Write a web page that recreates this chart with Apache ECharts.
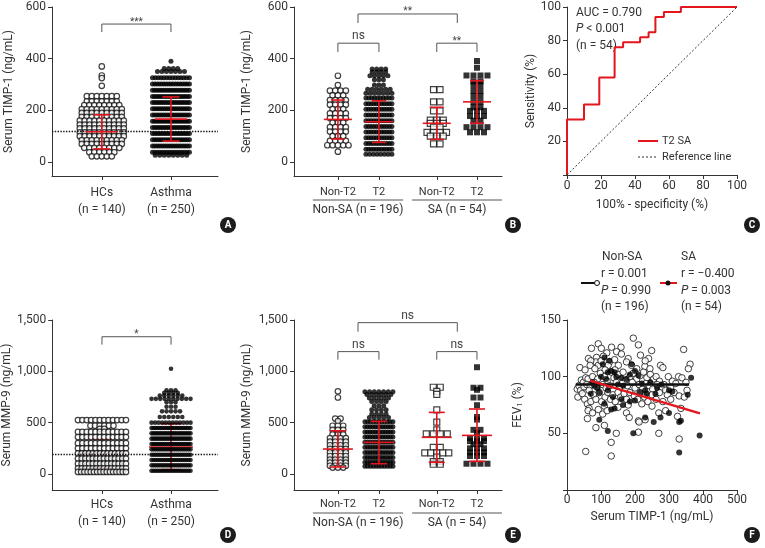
<!DOCTYPE html>
<html>
<head>
<meta charset="utf-8">
<title>Serum TIMP-1 and MMP-9</title>
<script src="https://cdn.jsdelivr.net/npm/echarts@6/dist/echarts.min.js"></script>
<style>
  html, body { margin: 0; background: #fff; }
  #chart { width: 765px; height: 548px; }
</style>
</head>
<body>
<div id="chart"></div>
<script>
// ---- data ----
// dot plots: each row is [value, number of dots drawn at that value]
const timpHcRows = [[370,1],[335,1],[325,1],[295,1],[255,7],[235,7],[220,8],[205,9],[190,9],[175,9],[160,10],[145,10],[130,10],[115,10],[100,10],[85,9],[70,9],[55,8],[38,6],[22,5]];
const timpAsthmaRows = [[390,1],[362,4],[350,7],[326,14],[302,17],[278,18],[254,18],[230,18],[206,18],[182,18],[158,18],[134,18],[110,18],[86,18],[62,18],[38,16],[26,8]];
const timpNonSaNonT2 = [[334,1],[298,1],[276,4],[258,3],[240,4],[222,4],[205,3],[188,4],[170,4],[152,3],[135,4],[118,4],[100,3],[82,4],[65,5],[40,1]];
const timpNonSaT2 = [[360,4],[348,4],[334,5],[318,3],[298,3],[282,6],[266,7],[248,10],[226,11],[204,11],[182,11],[160,11],[138,11],[116,11],[94,11],[72,11],[50,11],[30,8]];
const timpSaNonT2 = [[280,2],[233,2],[198,2],[162,3],[150,3],[135,2],[115,4],[100,3],[70,2]];
const timpSaT2 = [[391,1],[365,1],[335,4],[312,2],[298,2],[275,2],[255,2],[232,2],[212,2],[198,3],[178,3],[160,2],[135,4],[115,3]];

const mmpHcRows = [[525,12],[470,6],[440,2],[410,12],[360,12],[300,12],[250,12],[200,14],[150,14],[100,14],[55,14],[20,16]];
const mmpAsthmaRows = [[1025,1],[815,3],[790,4],[765,6],[732,10],[700,3],[655,3],[610,5],[555,6],[500,12],[448,22],[396,22],[344,22],[292,22],[240,20],[188,20],[136,20],[84,20],[32,20]];
const mmpNonSaNonT2 = [[805,1],[745,1],[540,2],[515,1],[470,3],[430,3],[385,3],[350,4],[315,4],[280,4],[245,4],[210,4],[175,4],[140,4],[110,4],[80,4],[62,3]];
const mmpNonSaT2 = [[800,7],[775,6],[740,5],[705,4],[665,3],[625,4],[585,4],[550,5],[510,11],[460,12],[410,12],[360,12],[310,12],[260,12],[210,12],[160,12],[115,12],[75,11]];
const mmpSaNonT2 = [[845,2],[805,1],[775,1],[625,1],[505,1],[430,1],[390,4],[260,2],[205,5],[165,1],[120,2],[95,2]];
const mmpSaT2 = [[1040,1],[840,2],[820,1],[745,2],[670,1],[555,1],[530,1],[430,2],[400,1],[350,3],[320,3],[290,2],[250,3],[210,3],[175,3],[100,4]];

// [mean, mean - SD, mean + SD]
const timpStatsA = [[117,51,183],[166,81,252]];
const timpStatsB = [[165,89,240],[156,76,237],[150,88,212],[233,150,315]];
const mmpStatsD = [[200,60,340],[263,42,490]];
const mmpStatsE = [[243,68,421],[308,100,512],[357,113,600],[376,123,633]];
const timpCutoff = 120;
const mmpCutoff = 195;

const twoGroupLabels = ['HCs\n(n = 140)', 'Asthma\n(n = 250)'];
const fourGroupLabels = ['Non-T2', 'T2', 'Non-T2', 'T2'];
const saGroupNames = ['Non-SA (n = 196)', 'SA (n = 54)'];
const sigA = ['***'];
const sigB = ['**', 'ns', '**'];
const sigD = ['*'];
const sigE = ['ns', 'ns', 'ns'];

// ROC: [100% - specificity, sensitivity]
const rocCurve = [[0,0],[0,33],[10,42],[19,58],[28,76],[33,79],[43,82],[48,85],[52,94],[57,97],[67,100],[100,100]];
const rocReference = [[0,0],[100,100]];

// FEV1 vs serum TIMP-1: [TIMP-1, FEV1]
const fevNonSa = [[195,134],[210,128],[92,129],[101,125],[72,125],[131,126],[159,126],[146,122],[117,121],[249,123],[343,124],[216,119],[240,116],[180,116],[87,117],[107,118],[63,116],[160,120],[125,113],[85,113],[70,114],[362,111],[357,107],[38,108],[68,110],[92,110],[121,110],[151,110],[190,110],[229,109],[53,106],[82,107],[112,106],[141,106],[205,107],[244,107],[275,110],[282,108],[175,113],[230,114],[100,114],[140,115],
  [30,89],[35,92],[42,97],[48,95],[55,99],[62,98],[75,100],[90,98],[98,103],[110,100],[118,96],[130,104],[138,99],[150,102],[165,104],[172,97],[185,100],[195,103],[205,98],[215,101],[225,104],[235,99],[245,102],[255,98],[262,100],[272,96],[285,93],[298,100],[310,96],[320,94],[328,100],[338,99],[350,95],[353,88],[40,88],[50,91],[58,93],[68,92],[80,95],[88,91],[105,93],[115,90],[125,92],[145,95],[155,91],[162,94],[178,92],[192,95],[200,90],[212,93],[222,89],[232,94],[242,92],[252,89],[265,93],[278,90],[290,88],[305,90],
  [32,82],[45,85],[52,80],[60,76],[65,72],[70,78],[78,84],[85,80],[95,86],[102,78],[112,82],[120,86],[128,80],[135,84],[142,78],[150,86],[158,82],[168,85],[175,80],[185,86],[198,83],[208,80],[215,86],[228,82],[238,78],[250,84],[262,80],[272,86],[282,78],[295,84],[305,80],[315,86],[330,83],[345,82],[65,88],[110,74],[180,75],[220,76],[250,74],[290,70],[62,70],[75,68],[92,71],[105,67],[118,70],[150,73],
  [55,34],[130,30],[130,42],[145,50],[210,51],[270,50],[330,45],[60,63],[110,57],[335,72],[210,61],[230,62],[85,55],[175,68],[270,68],[325,65],[183,64],[212,60]];
const fevSa = [[110,117],[125,114],[105,111],[130,105],[120,104],[140,104],[100,100],[115,98],[145,100],[160,99],[190,111],[200,105],[185,102],[210,101],[175,98],[75,95],[80,92],[90,90],[150,93],[165,92],[220,94],[230,88],[245,95],[265,90],[278,93],[310,87],[355,84],[365,99],[70,85],[95,86],[120,88],[135,82],[160,80],[185,78],[200,79],[215,86],[235,85],[260,85],[300,88],[140,72],[130,71],[165,75],[255,60],[230,64],[275,64],[300,68],[95,62],[120,52],[195,50],[330,60],[335,61],[330,33],[390,48],[110,76]];
const fitNonSa = [[26,93],[359,93]];
const fitSa = [[68,96.5],[391,67.6]];

// ---- layout ----
const FONT = 'Roboto, "Noto Sans", sans-serif';
const AX = '#333';
const TXT = '#333';
const RED = '#e3161d';

const twoPos = [0.72, 1.72];
const fourPos = [1.07, 2.07, 3.48, 4.46];
const groupSpans = [[0.46, 2.66], [2.88, 5.07]];

const chart = echarts.init(document.getElementById('chart'));

function nearest(pos, v) {
  let best = 0;
  pos.forEach((p, i) => { if (Math.abs(p - v) < Math.abs(pos[best] - v)) best = i; });
  return best;
}

// spread dots of one row sideways, centred on the group
function dotData(rows, xc, maxGap, maxWidth) {
  const out = [];
  rows.forEach(([v, n]) => {
    const gap = n > 1 ? Math.min(maxGap, maxWidth / (n - 1)) : 0;
    for (let k = 0; k < n; k++) {
      out.push({ value: [xc, v], symbolOffset: [(k - (n - 1) / 2) * gap, 0] });
    }
  });
  return out;
}

const OPEN = { color: '#fff', borderColor: '#111', borderWidth: 1.2 };
const FILL = { color: '#000' };

function dots(idx, rows, xc, maxGap, maxWidth, symbol, size, style) {
  return {
    type: 'scatter', xAxisIndex: idx, yAxisIndex: idx, silent: true,
    symbol: symbol, symbolSize: size, itemStyle: style,
    data: dotData(rows, xc, maxGap, maxWidth)
  };
}

function meanSd(idx, xs, stats, halfMean, halfCap, z) {
  return {
    type: 'custom', xAxisIndex: idx, yAxisIndex: idx, silent: true, z: z,
    data: stats.map((s, i) => [xs[i], s[0], s[1], s[2]]),
    renderItem: function (params, api) {
      const m = api.coord([api.value(0), api.value(1)]);
      const lo = api.coord([api.value(0), api.value(2)]);
      const hi = api.coord([api.value(0), api.value(3)]);
      const st = { stroke: RED, lineWidth: 1.6 };
      const seg = (x1, y1, x2, y2) => ({ type: 'line', shape: { x1, y1, x2, y2 }, style: st });
      return { type: 'group', children: [
        seg(m[0] - halfMean, m[1], m[0] + halfMean, m[1]),
        seg(lo[0], lo[1], hi[0], hi[1]),
        seg(lo[0] - halfCap, lo[1], lo[0] + halfCap, lo[1]),
        seg(hi[0] - halfCap, hi[1], hi[0] + halfCap, hi[1])
      ] };
    }
  };
}

// spans: [x1, x2, top, foot] in axis units
function brackets(idx, spans, labels) {
  return {
    type: 'custom', xAxisIndex: idx, yAxisIndex: idx, silent: true, z: 5,
    data: spans,
    renderItem: function (params, api) {
      const a = api.coord([api.value(0), api.value(2)]);
      const b = api.coord([api.value(1), api.value(3)]);
      const label = labels[params.dataIndex];
      const star = label !== 'ns';
      return { type: 'group', children: [
        { type: 'polyline', shape: { points: [[a[0], b[1]], [a[0], a[1]], [b[0], a[1]], [b[0], b[1]]] },
          style: { stroke: '#555', lineWidth: 1, fill: 'none' } },
        { type: 'text', x: (a[0] + b[0]) / 2, y: star ? a[1] + 3 : a[1] - 1,
          style: { text: label, fill: '#444', fontSize: star ? 10 : 12, fontFamily: FONT, align: 'center', verticalAlign: 'bottom' } }
      ] };
    }
  };
}

function groupLabels(idx, yMin, lineOff, textOff) {
  return {
    type: 'custom', xAxisIndex: idx, yAxisIndex: idx, silent: true,
    data: groupSpans,
    renderItem: function (params, api) {
      const a = api.coord([api.value(0), yMin]);
      const b = api.coord([api.value(1), yMin]);
      return { type: 'group', children: [
        { type: 'line', shape: { x1: a[0], y1: a[1] + lineOff, x2: b[0], y2: a[1] + lineOff }, style: { stroke: '#555', lineWidth: 1 } },
        { type: 'text', x: (a[0] + b[0]) / 2, y: a[1] + textOff,
          style: { text: saGroupNames[params.dataIndex], fill: TXT, fontSize: 12, fontFamily: FONT, align: 'center', verticalAlign: 'middle' } }
      ] };
    }
  };
}

function dotXAxis(idx, max, pos, labels, fs, lh, margin) {
  return {
    gridIndex: idx, type: 'value', min: 0, max: max,
    axisLine: { show: true, onZero: false, lineStyle: { color: AX } },
    axisTick: { show: true, customValues: pos, length: 4, lineStyle: { color: AX } },
    axisLabel: { customValues: pos, formatter: v => labels[nearest(pos, v)], color: TXT,
      fontFamily: FONT, fontSize: fs, lineHeight: lh, margin: margin },
    splitLine: { show: false }
  };
}

function dotYAxis(idx, min, max, ticks, name, gap) {
  return {
    gridIndex: idx, type: 'value', min: min, max: max,
    axisLine: { show: true, onZero: false, lineStyle: { color: AX } },
    axisTick: { show: true, customValues: ticks, length: 4, lineStyle: { color: AX } },
    axisLabel: { customValues: ticks, formatter: v => v.toLocaleString('en-US'), color: TXT,
      fontFamily: FONT, fontSize: 12, margin: 6 },
    splitLine: { show: false },
    name: name, nameLocation: 'middle', nameGap: gap,
    nameTextStyle: { color: TXT, fontFamily: FONT, fontSize: 12, rich: { s: { fontSize: 8, verticalAlign: 'bottom', fontFamily: FONT, color: TXT } } }
  };
}

function plainAxis(idx, max, interval, name, gap, hideZero, margin) {
  return {
    gridIndex: idx, type: 'value', min: 0, max: max, interval: interval,
    axisLine: { show: true, onZero: false, lineStyle: { color: AX } },
    axisTick: { show: true, length: 4, lineStyle: { color: AX } },
    axisLabel: { color: TXT, fontFamily: FONT, fontSize: 12, margin: margin,
      formatter: v => (hideZero && v === 0 ? '' : String(v)) },
    splitLine: { show: false },
    name: name, nameLocation: 'middle', nameGap: gap,
    nameTextStyle: { color: TXT, fontFamily: FONT, fontSize: 12, rich: { s: { fontSize: 8, verticalAlign: 'bottom', fontFamily: FONT, color: TXT } } }
  };
}

function cutoffLine(value) {
  return { silent: true, symbol: 'none', label: { show: false },
    lineStyle: { type: 'dotted', color: '#111', width: 1.4 }, data: [{ yAxis: value }] };
}

function badge(x, y, letter) {
  return [
    { type: 'circle', shape: { cx: x, cy: y, r: 8 }, style: { fill: '#1c1c1c' } },
    { type: 'text', x: x, y: y + 0.5, style: { text: letter, fill: '#fff', fontSize: 10, fontWeight: 'bold', fontFamily: FONT, align: 'center', verticalAlign: 'middle' } }
  ];
}

function label(x, y, text, size) {
  return { type: 'text', x: x, y: y, style: { text: text, fill: TXT, fontSize: size || 12, fontFamily: FONT,
    align: 'left', verticalAlign: 'middle', rich: { i: { fontStyle: 'italic', fontSize: size || 12, fontFamily: FONT, fill: TXT } } } };
}

const graphics = [].concat(
  badge(228, 225, 'A'), badge(513, 225, 'B'), badge(752, 225, 'C'),
  badge(228, 535, 'D'), badge(513, 535, 'E'), badge(752, 535, 'F'),
  [
    label(576, 13, 'AUC = 0.790'),
    label(576, 29, '{i|P} < 0.001'),
    label(576, 46, '(n = 54)'),
    { type: 'line', shape: { x1: 638, y1: 141, x2: 658, y2: 141 }, style: { stroke: RED, lineWidth: 2 } },
    label(662, 141, 'T2 SA', 11),
    { type: 'line', shape: { x1: 638, y1: 157, x2: 658, y2: 157 }, style: { stroke: '#333', lineWidth: 1, lineDash: [2, 2] } },
    label(662, 157, 'Reference line', 11),
    label(602, 257, 'Non-SA'),
    label(681, 257, 'SA'),
    { type: 'line', shape: { x1: 581, y1: 283, x2: 599, y2: 283 }, style: { stroke: '#111', lineWidth: 2 } },
    { type: 'circle', shape: { cx: 597, cy: 283, r: 2.5 }, style: { fill: '#fff', stroke: '#111', lineWidth: 1 } },
    { type: 'line', shape: { x1: 660, y1: 283, x2: 677, y2: 283 }, style: { stroke: RED, lineWidth: 2 } },
    { type: 'circle', shape: { cx: 668, cy: 283, r: 2.5 }, style: { fill: '#111' } },
    label(601, 274, 'r = 0.001'),
    label(601, 291, '{i|P} = 0.990'),
    label(601, 307, '(n = 196)'),
    label(681, 274, 'r = \u22120.400'),
    label(681, 291, '{i|P} = 0.003'),
    label(681, 307, '(n = 54)')
  ]
);

const option = {
  animation: false,
  backgroundColor: '#fff',
  textStyle: { fontFamily: FONT },
  grid: [
    { left: 52, top: 7, width: 166, height: 169 },
    { left: 294, top: 7, width: 208, height: 169 },
    { left: 567, top: 7, width: 170, height: 168 },
    { left: 52, top: 320, width: 166, height: 170 },
    { left: 294, top: 320, width: 208, height: 170 },
    { left: 567, top: 320, width: 170, height: 170 }
  ],
  xAxis: [
    dotXAxis(0, 2.4, twoPos, twoGroupLabels, 12, 17, 8),
    dotXAxis(1, 5.07, fourPos, fourGroupLabels, 11, 14, 9),
    plainAxis(2, 100, 20, '100% - specificity (%)', 24, false, 5),
    dotXAxis(3, 2.4, twoPos, twoGroupLabels, 12, 17, 6.5),
    dotXAxis(4, 5.07, fourPos, fourGroupLabels, 11, 14, 7),
    plainAxis(5, 500, 100, 'Serum TIMP-1 (ng/mL)', 21, false, 4)
  ],
  yAxis: [
    dotYAxis(0, -54, 600, [0, 200, 400, 600], 'Serum TIMP-1 (ng/mL)', 37),
    dotYAxis(1, -54, 600, [0, 200, 400, 600], 'Serum TIMP-1 (ng/mL)', 41),
    plainAxis(2, 100, 20, 'Sensitivity (%)', 29, true, 6),
    dotYAxis(3, -156, 1500, [0, 500, 1000, 1500], 'Serum MMP-9 (ng/mL)', 37),
    dotYAxis(4, -156, 1500, [0, 500, 1000, 1500], 'Serum MMP-9 (ng/mL)', 41),
    plainAxis(5, 150, 50, 'FEV{s|1} (%)', 43, true, 6)
  ],
  graphic: graphics,
  series: [
    // A
    Object.assign(dots(0, timpHcRows, twoPos[0], 5, 44, 'circle', 5.5, OPEN), { markLine: cutoffLine(timpCutoff) }),
    dots(0, timpAsthmaRows, twoPos[1], 4.5, 37, 'circle', 5, FILL),
    meanSd(0, twoPos, timpStatsA, 16, 8.5, 5),
    brackets(0, [[0.72, 1.72, 534, 503]], sigA),
    // B
    dots(1, timpNonSaNonT2, fourPos[0], 5.3, 22, 'circle', 5.5, OPEN),
    dots(1, timpNonSaT2, fourPos[1], 4.5, 26, 'circle', 5, FILL),
    dots(1, timpSaNonT2, fourPos[2], 6.5, 21, 'rect', 6, OPEN),
    dots(1, timpSaT2, fourPos[3], 7, 22, 'rect', 6, FILL),
    meanSd(1, fourPos, timpStatsB, 14, 7, 5),
    brackets(1, [[1.56, 3.98, 573, 538], [1.07, 2.07, 460, 426], [3.48, 4.46, 460, 426]], sigB),
    groupLabels(1, -54, 24, 34),
    // C
    { type: 'line', xAxisIndex: 2, yAxisIndex: 2, data: rocCurve, step: 'end', symbol: 'none', silent: true,
      lineStyle: { color: RED, width: 2 } },
    { type: 'line', xAxisIndex: 2, yAxisIndex: 2, data: rocReference, symbol: 'none', silent: true,
      lineStyle: { color: '#333', width: 1, type: [2, 2] } },
    // D
    Object.assign(dots(3, mmpHcRows, twoPos[0], 4.6, 48, 'circle', 5.5, OPEN), { markLine: cutoffLine(mmpCutoff) }),
    dots(3, mmpAsthmaRows, twoPos[1], 4.5, 39, 'circle', 4.6, FILL),
    meanSd(3, twoPos, mmpStatsD, 22, 10, 1),
    brackets(3, [[0.72, 1.72, 1337, 1260]], sigD),
    // E
    dots(4, mmpNonSaNonT2, fourPos[0], 5.3, 22, 'circle', 5.5, OPEN),
    dots(4, mmpNonSaT2, fourPos[1], 4.8, 28, 'circle', 5, FILL),
    dots(4, mmpSaNonT2, fourPos[2], 7, 24, 'rect', 6, OPEN),
    dots(4, mmpSaT2, fourPos[3], 7, 24, 'rect', 6, FILL),
    meanSd(4, fourPos, mmpStatsE, 15, 8, 5),
    brackets(4, [[1.56, 3.98, 1474, 1386], [1.07, 2.07, 1192, 1114], [3.48, 4.46, 1192, 1114]], sigE),
    groupLabels(4, -156, 23, 33),
    // F
    { type: 'scatter', xAxisIndex: 5, yAxisIndex: 5, data: fevNonSa, symbol: 'circle', symbolSize: 6.5, silent: true,
      itemStyle: { color: '#fff', borderColor: '#111', borderWidth: 1 } },
    { type: 'scatter', xAxisIndex: 5, yAxisIndex: 5, data: fevSa, symbol: 'circle', symbolSize: 6, silent: true,
      itemStyle: { color: '#000' } },
    { type: 'line', xAxisIndex: 5, yAxisIndex: 5, data: fitNonSa, symbol: 'none', silent: true, z: 4,
      lineStyle: { color: '#111', width: 2.5 } },
    { type: 'line', xAxisIndex: 5, yAxisIndex: 5, data: fitSa, symbol: 'none', silent: true, z: 4,
      lineStyle: { color: RED, width: 2.5 } }
  ]
};

chart.setOption(option);
</script>
</body>
</html>
